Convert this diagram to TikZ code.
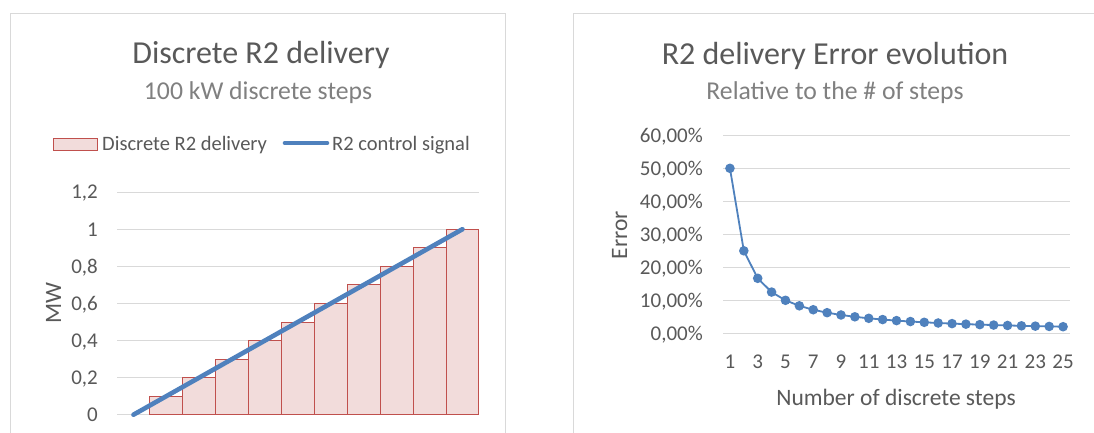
\documentclass[tikz,border=0pt]{standalone}
\usepackage{fontspec}
\setmainfont{Carlito}
\definecolor{txt}{HTML}{595959}
\definecolor{subtxt}{HTML}{808080}
\definecolor{grid}{HTML}{D9D9D9}
\definecolor{frame}{HTML}{D9D9D9}
\definecolor{barfill}{HTML}{F2DCDB}
\definecolor{barline}{HTML}{C0504D}
\definecolor{blueline}{HTML}{4F81BD}
\tikzset{
  panel/.style={draw=frame, line width=1pt},
  gridline/.style={draw=grid, line width=1pt},
  bar/.style={draw=barline, fill=barfill, line width=0.9pt},
  sigline/.style={draw=blueline, line width=4.6pt, line cap=round},
  errline/.style={draw=blueline, line width=1.8pt},
  marker/.style={fill=blueline, draw=none},
  ttl/.style={text=txt, font=\fontsize{32}{36}\selectfont, inner sep=0pt, anchor=base},
  subttl/.style={text=subtxt, font=\fontsize{25.7}{30}\selectfont, inner sep=0pt, anchor=base},
  tick/.style={text=txt, font=\fontsize{21}{24}\selectfont, inner sep=0pt},
  axttl/.style={text=txt, font=\fontsize{23.5}{27}\selectfont, inner sep=0pt, anchor=base},
  legtxt/.style={text=txt, font=\fontsize{20.5}{24}\selectfont, inner sep=0pt, anchor=base west},
}
\begin{document}
\begin{tikzpicture}[x=1pt,y=-1pt]
\useasboundingbox (0,0) rectangle (1094,432);
\fill[white] (0,0) rectangle (1094,432);
% panels
\draw[panel] (10,440) -- (10,13) -- (505,13) -- (505,440);
\draw[panel] (573,440) -- (573,13) -- (1100,13);

% ---------- left chart ----------
\node[ttl] (t1) at (261,63) {Discrete R2 delivery};
\node[subttl] (s1) at (258,99) {100 kW discrete steps};
% legend
\node[bar, minimum width=44pt, minimum height=12pt, inner sep=0pt] (legbar) at (75,144) {};
\node[legtxt] (legbartxt) at (102,150) {Discrete R2 delivery};
\coordinate (lls) at (285,143);
\coordinate (lle) at (327,143);
\draw[sigline] (lls) -- (lle);
\node[legtxt] (leglinetxt) at (332,150) {R2 control signal};
% grid
\foreach \v/\lab in {0/0, 0.2/{0,2}, 0.4/{0,4}, 0.6/{0,6}, 0.8/{0,8}, 1/1, 1.2/{1,2}} {
  \pgfmathsetmacro{\yy}{414.7-\v*185.5}
  \draw[gridline] (117,\yy) -- (479,\yy);
  \node[tick, anchor=base east] at (98,\yy+6.8) {\lab};
}
% bars
\foreach \i in {1,...,10} {
  \pgfmathsetmacro{\xa}{117+\i*32.9}
  \pgfmathsetmacro{\xb}{117+(\i+1)*32.9}
  \pgfmathsetmacro{\yt}{414.7-0.1*\i*185.5}
  \draw[bar] (\xa,414.7) rectangle (\xb,\yt);
}
\coordinate (sig0) at (133.45,414.7);
\coordinate (sig1) at (462.45,229.2);
\draw[sigline] (sig0) -- (sig1);
\node[axttl, rotate=90] (mw) at (61,303) {MW};

% ---------- right chart ----------
\node[ttl] (t2) at (835,64) {R2 delivery Error evolution};
\node[subttl] (s2) at (835,99) {Relative to the \# of steps};
\foreach \p/\lab in {0/{0,00\%}, 10/{10,00\%}, 20/{20,00\%}, 30/{30,00\%}, 40/{40,00\%}, 50/{50,00\%}, 60/{60,00\%}} {
  \pgfmathsetmacro{\yy}{333.3-\p*3.3}
  \draw[gridline] (723,\yy) -- (1070,\yy);
  \node[tick, anchor=base east] at (703,\yy+7) {\lab};
}
\foreach \n in {1,3,...,25} {
  \pgfmathsetmacro{\xx}{723+(\n-0.5)*13.88}
  \node[tick, anchor=base] at (\xx,368.3) {\n};
}
\draw[errline] plot[domain=1:25, samples=25, variable=\n] ({723+(\n-0.5)*13.88},{333.3-50/\n*3.3});
\foreach \n in {1,...,25} {
  \pgfmathsetmacro{\xx}{723+(\n-0.5)*13.88}
  \pgfmathsetmacro{\yy}{333.3-50/\n*3.3}
  \fill[marker] (\xx,\yy) circle (4.8pt);
}
\node[axttl, rotate=90] (err) at (627,235) {Error};
\node[axttl] (xlab) at (896,405) {Number of discrete steps};
\end{tikzpicture}
\end{document}
